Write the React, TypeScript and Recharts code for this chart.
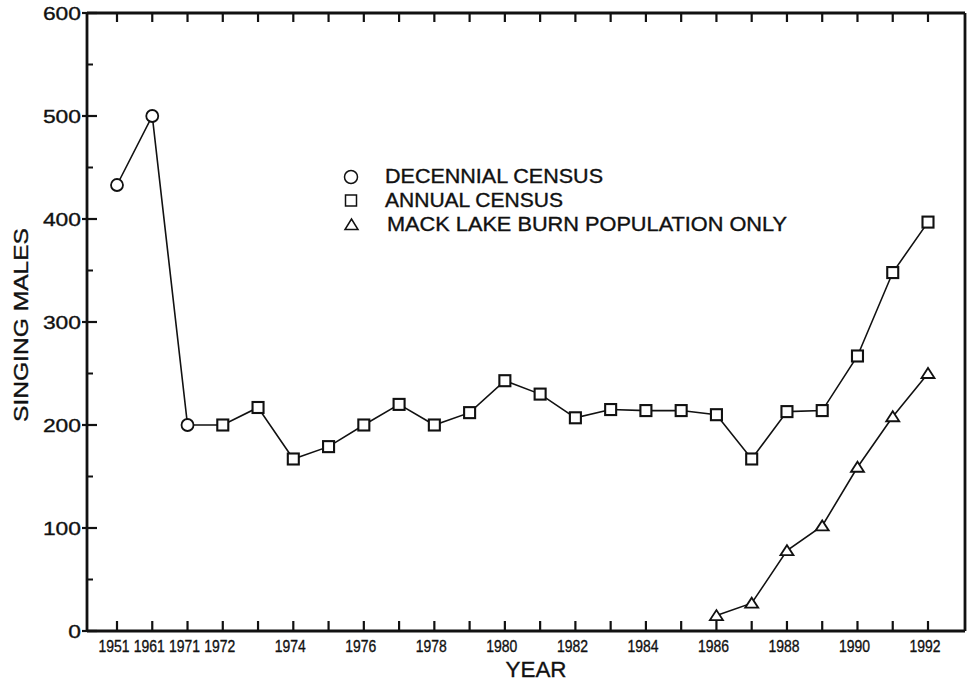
import React from 'react';
import { LineChart, Line, XAxis, YAxis, Legend } from 'recharts';

const years = ['1951','1961','1971','1972','1973','1974','1975','1976','1977','1978','1979','1980','1981','1982','1983','1984','1985','1986','1987','1988','1989','1990','1991','1992'];
const yearLabels = ['1951','1961','1971','1972','','1974','','1976','','1978','','1980','','1982','','1984','','1986','','1988','','1990','','1992'];
const decennial = [433, 500, 200, null, null, null, null, null, null, null, null, null, null, null, null, null, null, null, null, null, null, null, null, null];
const annual = [null, null, 200, 200, 217, 167, 179, 200, 220, 200, 212, 243, 230, 207, 215, 214, 214, 210, 167, 213, 214, 267, 348, 397];
const mackLake = [null, null, null, null, null, null, null, null, null, null, null, null, null, null, null, null, null, 15, 27, 78, 102, 159, 208, 250];
const yTicks = [0, 50, 100, 150, 200, 250, 300, 350, 400, 450, 500, 550, 600];
const legendLabels = ['DECENNIAL CENSUS', 'ANNUAL CENSUS', 'MACK LAKE BURN POPULATION ONLY'];
const xTitle = 'YEAR';
const yTitle = 'SINGING MALES';

const data = years.map((y, i) => ({
  year: y,
  label: yearLabels[i],
  decennial: decennial[i],
  annual: annual[i],
  mack: mackLake[i],
}));

const FONT = '"Liberation Sans", Arial, Helvetica, sans-serif';
const INK = '#111';
const TXT = { fontFamily: FONT, fill: INK, stroke: INK, strokeWidth: 0.35 } as const;

const CircleDot = (p: any) => {
  if (p.cy == null || p.value == null) return <g key={p.key} />;
  return <circle key={p.key} cx={p.cx} cy={p.cy} r={6} fill="#fff" stroke={INK} strokeWidth={1.8} />;
};
const SquareDot = (p: any) => {
  if (p.cy == null || p.value == null || p.payload?.year === '1971') return <g key={p.key} />;
  return <rect key={p.key} x={p.cx - 5.5} y={p.cy - 5.5} width={11} height={11} fill="#fff" stroke={INK} strokeWidth={2.1} />;
};
const TriDot = (p: any) => {
  if (p.cy == null || p.value == null) return <g key={p.key} />;
  const { cx, cy } = p;
  return <polygon key={p.key} points={`${cx - 6.5},${cy + 4.5} ${cx + 6.5},${cy + 4.5} ${cx},${cy - 5.5}`} fill="#fff" stroke={INK} strokeWidth={1.8} />;
};

const BottomTick = (p: any) => {
  const lbl = yearLabels[p.index];
  if (!lbl) return <g />;
  return (
    <text x={p.x - 3} y={p.y} dy="0.71em" textAnchor="middle" fontSize={16.5} textLength={31} lengthAdjust="spacingAndGlyphs" {...TXT}>{lbl}</text>
  );
};
const EmptyTick = () => <g />;
const LeftTick = (p: any) => {
  const v = p.payload.value;
  const major = v % 100 === 0;
  const s = String(v);
  return (
    <g>
      {major ? (
        <line x1={p.x - 5} x2={p.x + 10} y1={p.y} y2={p.y} stroke={INK} strokeWidth={2.2} />
      ) : (
        <line x1={p.x} x2={p.x + 6} y1={p.y} y2={p.y} stroke={INK} strokeWidth={2} />
      )}
      {major ? (
        <text x={p.x - 6} y={p.y} dy="0.36em" textAnchor="end" fontSize={19} textLength={12.7 * s.length} lengthAdjust="spacingAndGlyphs" {...TXT}>{s}</text>
      ) : null}
    </g>
  );
};

const LegendBox = () => (
  <svg width={480} height={80} style={{ display: 'block', overflow: 'visible' }}>
    <circle cx={21} cy={17} r={6.5} fill="#fff" stroke={INK} strokeWidth={1.5} />
    <rect x={15.5} y={35} width={11} height={11} fill="#fff" stroke={INK} strokeWidth={1.5} />
    <polygon points={`${15},${69.5} ${28},${69.5} ${21.5},${59}`} fill="#fff" stroke={INK} strokeWidth={1.5} />
    <text x={55} y={15.5} dy="0.36em" fontSize={19.5} textLength={218} lengthAdjust="spacingAndGlyphs" {...TXT}>{legendLabels[0]}</text>
    <text x={55} y={40} dy="0.36em" fontSize={19.5} textLength={178} lengthAdjust="spacingAndGlyphs" {...TXT}>{legendLabels[1]}</text>
    <text x={57} y={63.5} dy="0.36em" fontSize={19.5} textLength={400} lengthAdjust="spacingAndGlyphs" {...TXT}>{legendLabels[2]}</text>
  </svg>
);

const tickStroke = { stroke: INK, strokeWidth: 2.2 };

export default function App() {
  return (
    <div style={{ position: 'absolute', left: 0, top: 0, width: 968, height: 682, background: '#fff' }}>
      <LineChart width={968} height={682} data={data} margin={{ top: 12, right: 2, bottom: 0, left: 0 }}>
        <XAxis
          dataKey="year"
          height={51}
          padding={{ left: 30, right: 37 }}
          interval={0}
          tickSize={-10}
          tickMargin={19}
          tickLine={tickStroke}
          axisLine={{ stroke: INK, strokeWidth: 2.8 }}
          tick={BottomTick}
          label={() => (
            <text x={536} y={677} textAnchor="middle" fontSize={22} textLength={61} lengthAdjust="spacingAndGlyphs" {...TXT}>{xTitle}</text>
          )}
        />
        <XAxis
          xAxisId="top"
          orientation="top"
          dataKey="year"
          height={1}
          padding={{ left: 30, right: 37 }}
          interval={0}
          tickSize={-9}
          tickMargin={0}
          tickLine={tickStroke}
          axisLine={{ stroke: INK, strokeWidth: 2.8 }}
          tick={EmptyTick}
        />
        <YAxis
          type="number"
          domain={[0, 600]}
          ticks={yTicks}
          interval={0}
          width={87}
          tickSize={0}
          tickMargin={0}
          tickLine={false}
          axisLine={{ stroke: INK, strokeWidth: 2.8 }}
          tick={LeftTick}
          label={() => (
            <text x={20} y={325} transform="rotate(-90 20 325)" textAnchor="middle" dy="0.36em" fontSize={21} textLength={194} lengthAdjust="spacingAndGlyphs" {...TXT}>{yTitle}</text>
          )}
        />
        <YAxis
          yAxisId="r"
          orientation="right"
          type="number"
          domain={[0, 600]}
          ticks={yTicks}
          interval={0}
          width={1}
          tickSize={-9}
          tickMargin={0}
          tickLine={tickStroke}
          axisLine={{ stroke: INK, strokeWidth: 2.8 }}
          tick={EmptyTick}
        />
        <Legend
          layout="vertical"
          align="center"
          verticalAlign="middle"
          content={() => <LegendBox />}
          wrapperStyle={{ position: 'absolute', left: 330, top: 160, width: 480, height: 80 }}
        />
        <Line dataKey="annual" stroke={INK} strokeWidth={1.6} dot={SquareDot} isAnimationActive={false} />
        <Line dataKey="mack" stroke={INK} strokeWidth={1.6} dot={TriDot} isAnimationActive={false} />
        <Line dataKey="decennial" stroke={INK} strokeWidth={1.6} dot={CircleDot} isAnimationActive={false} />
      </LineChart>
    </div>
  );
}
